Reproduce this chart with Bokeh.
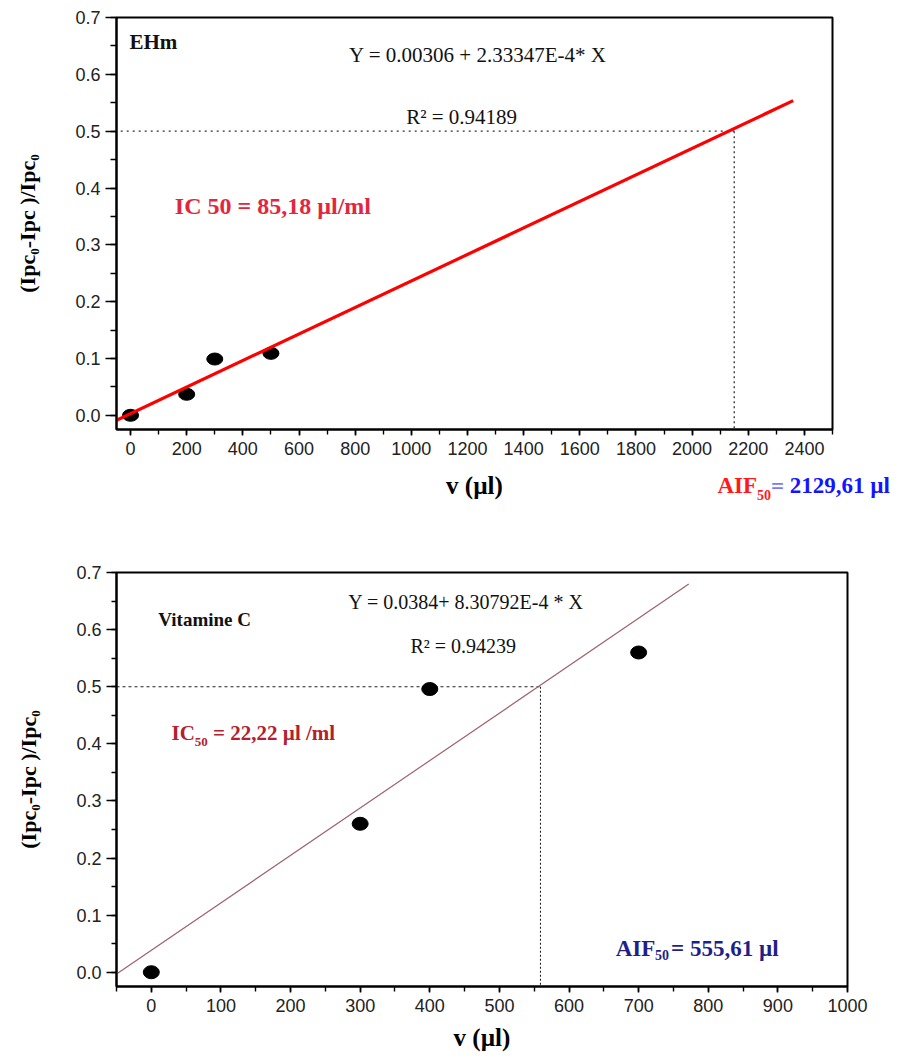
from bokeh.plotting import figure
from bokeh.models import Label, SingleIntervalTicker, PrintfTickFormatter, Range1d
from bokeh.layouts import column
from bokeh.embed import file_html
from bokeh.resources import INLINE

# ---------------- data ----------------
ehm_v = [0, 200, 300, 500]
ehm_ratio = [0.0, 0.037, 0.099, 0.109]
ehm_intercept = 0.00306
ehm_slope = 2.33347e-4
ehm_fit_x = [-50, 2360]
ehm_aif_line_x = 2150

vitc_v = [0, 300, 400, 700]
vitc_ratio = [0.0, 0.26, 0.496, 0.56]
vitc_intercept = 0.0384
vitc_slope = 8.30792e-4
vitc_fit_x = [-50, 772]
vitc_aif_line_x = 559

ehm_texts = ["EHm", "Y = 0.00306 + 2.33347E-4* X", "R\u00b2 = 0.94189", "IC 50 = 85,18 \u00b5l/ml"]
ehm_aif = ["AIF", "50", "=", "2129,61 \u00b5l"]
vitc_texts = ["Vitamine C", "Y = 0.0384+ 8.30792E-4 * X", "R\u00b2 = 0.94239"]
vitc_ic = ["IC", "50", "= 22,22 \u00b5l /ml"]
vitc_aif = ["AIF", "50", "= 555,61 \u00b5l"]

x_label = "v (\u00b5l)"
y_label = "(Ipc\u2080-Ipc )/Ipc\u2080"

SERIF = "Liberation Serif"
SANS = "Liberation Sans"


def make_fig(xr, fw, fh, bl, br, bt, bb, x_interval, ytick_major, ytick_minor):
    p = figure(frame_width=fw, frame_height=fh,
               x_range=Range1d(*xr), y_range=Range1d(-0.025, 0.7001),
               output_backend="svg", toolbar_location=None,
               min_border_left=bl, min_border_right=br,
               min_border_top=bt, min_border_bottom=bb)
    p.xgrid.visible = False
    p.ygrid.visible = False
    p.outline_line_color = "black"
    p.outline_line_width = 2
    p.outline_line_alpha = 1
    p.background_fill_color = "white"
    p.border_fill_color = "white"
    p.xaxis.ticker = SingleIntervalTicker(interval=x_interval, num_minor_ticks=2)
    p.yaxis.ticker = SingleIntervalTicker(interval=0.1, num_minor_ticks=2)
    p.yaxis.formatter = PrintfTickFormatter(format="%.1f")
    for ax in (p.xaxis[0], p.yaxis[0]):
        ax.axis_line_width = 2
        ax.axis_line_color = "black"
        ax.major_tick_line_color = "black"
        ax.major_tick_line_width = 1.6
        ax.minor_tick_line_color = "black"
        ax.minor_tick_line_width = 1.4
        ax.major_tick_in = 0
        ax.minor_tick_in = 0
        ax.major_label_text_font = SANS
        ax.major_label_text_font_size = "18px"
        ax.major_label_text_color = "#222222"
        ax.axis_label_text_font = SERIF
        ax.axis_label_text_font_style = "bold"
        ax.axis_label_text_color = "black"
    xa = p.xaxis[0]
    xa.major_tick_out = 6
    xa.minor_tick_out = 5
    xa.major_label_standoff = 6
    xa.axis_label = x_label
    xa.axis_label_text_font_size = "25px"
    ya = p.yaxis[0]
    ya.major_tick_out = ytick_major
    ya.minor_tick_out = ytick_minor
    ya.major_label_standoff = 5
    ya.axis_label = y_label
    ya.axis_label_text_font_size = "22px"
    ya.axis_label_standoff = 32
    return p


def lab(p, x, y, text, size, color="#111111", style="normal", align="left", place="center"):
    p.add_layout(Label(x=x, y=y, text=text, text_font=SERIF,
                       text_font_size=f"{size}px", text_font_style=style,
                       text_color=color, text_align=align,
                       text_baseline="alphabetic"), place)


# ---------------- top chart: EHm ----------------
p1 = make_fig((-50, 2500), 716, 412, 116, 71, 17, 111, 200, 11, 6)
p1.xaxis[0].axis_label_standoff = 14

p1.line([-35, ehm_aif_line_x], [0.5, 0.5], line_color="#333333",
        line_width=1.3, line_dash="2 4")
p1.line([ehm_aif_line_x, ehm_aif_line_x], [0.5, -0.025], line_color="#333333",
        line_width=1.3, line_dash="2 3")
p1.ellipse(x=ehm_v, y=ehm_ratio, width=16, height=12,
           width_units="screen", height_units="screen",
           fill_color="black", line_color="black")
ehm_fit_y = [ehm_intercept + ehm_slope * x for x in ehm_fit_x]
p1.line(ehm_fit_x, ehm_fit_y, line_color="#ff0000", line_width=3.2)

lab(p1, -4, 0.6565, ehm_texts[0], 21, "#111111", "bold", "left")
lab(p1, 1237, 0.6349, ehm_texts[1], 21, "#111111", "normal", "center")
lab(p1, 1179, 0.5258, ehm_texts[2], 21, "#111111", "normal", "center")
lab(p1, 507, 0.369, ehm_texts[3], 24, "#e3263f", "bold", "center")

# AIF caption lies outside the frame: its pieces go into side panels
# (the narrow ones into the right panel, the wide one into the below panel)
lab(p1, 2090, -0.1235, ehm_aif[0], 23, "#ff1a1a", "bold", place="right")
lab(p1, 2231, -0.1411, ehm_aif[1], 14, "#ff1a1a", "bold", place="right")
lab(p1, 2281, -0.1255, ehm_aif[2], 23, "#7a7aff", "bold", place="right")
lab(p1, 2348, -0.1235, ehm_aif[3], 23, "#1414ff", "bold", place="below")

# ---------------- bottom chart: Vitamine C ----------------
p2 = make_fig((-50, 1000), 731, 414, 113, 50, 32, 72, 100, 10, 5)
p2.xaxis[0].axis_label_standoff = 9

p2.line([-50, vitc_aif_line_x], [0.5, 0.5], line_color="#222222",
        line_width=1.1, line_dash="3 3")
p2.line([vitc_aif_line_x, vitc_aif_line_x], [0.5, -0.025], line_color="#222222",
        line_width=1.1, line_dash="2 2")
vitc_fit_y = [vitc_intercept + vitc_slope * x for x in vitc_fit_x]
p2.line(vitc_fit_x, vitc_fit_y, line_color="#a0606e", line_width=1.2)
p2.ellipse(x=vitc_v, y=vitc_ratio, width=16, height=13,
           width_units="screen", height_units="screen",
           fill_color="black", line_color="black")

lab(p2, 10, 0.6172, vitc_texts[0], 19, "#111111", "bold", "left")
lab(p2, 452, 0.6492, vitc_texts[1], 20, "#111111", "normal", "center")
lab(p2, 448, 0.5722, vitc_texts[2], 20, "#111111", "normal", "center")

lab(p2, 29, 0.4186, vitc_ic[0], 21, "#b3202e", "bold")
lab(p2, 62.5, 0.4028, vitc_ic[1], 13, "#b3202e", "bold")
lab(p2, 88.7, 0.4186, vitc_ic[2], 21, "#b3202e", "bold")

lab(p2, 667, 0.0421, vitc_aif[0], 23, "#1f1f8a", "bold")
lab(p2, 723.6, 0.0293, vitc_aif[1], 14, "#1f1f8a", "bold")
lab(p2, 746.6, 0.0421, vitc_aif[2], 23, "#1f1f8a", "bold")

layout = column(p1, p2)
open("out.html", "w").write(file_html(layout, INLINE))
